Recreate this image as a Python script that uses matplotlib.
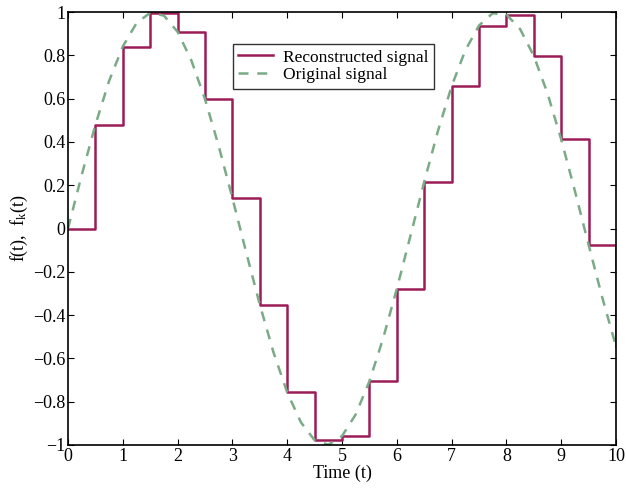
import matplotlib
matplotlib.use("Agg")
import matplotlib.pyplot as plt

# sample instants and held values (zero order hold)
t_samples = [0, 0.5, 1, 1.5, 2, 2.5, 3, 3.5, 4, 4.5, 5, 5.5, 6, 6.5, 7, 7.5, 8, 8.5, 9, 9.5, 10]
f_samples = [0, 0.479, 0.841, 0.997, 0.909, 0.598, 0.141, -0.351, -0.757, -0.978,
             -0.959, -0.706, -0.279, 0.215, 0.657, 0.938, 0.989, 0.798, 0.412, -0.075, -0.544]

# original signal
t_orig = [0, 0.25, 0.5, 0.75, 1, 1.25, 1.5, 1.75, 2, 2.25, 2.5, 2.75, 3, 3.25, 3.5, 3.75,
          4, 4.25, 4.5, 4.75, 5, 5.25, 5.5, 5.75, 6, 6.25, 6.5, 6.75, 7, 7.25, 7.5, 7.75,
          8, 8.25, 8.5, 8.75, 9, 9.25, 9.5, 9.75, 10]
f_orig = [0, 0.247, 0.479, 0.682, 0.841, 0.949, 0.997, 0.984, 0.909, 0.778, 0.598, 0.382,
          0.141, -0.108, -0.351, -0.572, -0.757, -0.895, -0.978, -0.999, -0.959, -0.859,
          -0.706, -0.508, -0.279, -0.033, 0.215, 0.450, 0.657, 0.823, 0.938, 0.995, 0.989,
          0.922, 0.798, 0.625, 0.412, 0.174, -0.075, -0.319, -0.544]

plt.rcParams['font.family'] = ['Liberation Serif', 'DejaVu Serif']
plt.rcParams['mathtext.fontset'] = 'custom'
plt.rcParams['mathtext.rm'] = 'Liberation Serif'
plt.rcParams['mathtext.it'] = 'Liberation Serif'

fig = plt.figure(figsize=(6.26, 4.93), dpi=100)
ax = fig.add_axes([0.1086, 0.0974, 0.8754, 0.878])

ax.step(t_samples, f_samples, where='post', color='#9c1c58', lw=1.8, label='Reconstructed signal')
ax.plot(t_orig, f_orig, color='#7aab86', lw=1.8, ls=(0, (4, 3.5)), label='Original signal')

ax.set_xlim(0, 10)
ax.set_ylim(-1, 1)
ax.set_xticks(range(0, 11))
ax.set_yticks([-1, -0.8, -0.6, -0.4, -0.2, 0, 0.2, 0.4, 0.6, 0.8, 1])
ax.set_yticklabels(['\u22121', '\u22120.8', '\u22120.6', '\u22120.4', '\u22120.2', '0',
                    '0.2', '0.4', '0.6', '0.8', '1'])
ax.tick_params(direction='in', top=True, right=True, labelsize=13, length=4, width=0.8, pad=2)
for s in ax.spines.values():
    s.set_linewidth(1.2)

ax.set_xlabel('Time (t)', fontsize=13, labelpad=0)
ax.set_ylabel(r'f(t),  f$_\mathrm{k}$(t)', fontsize=13, labelpad=2)

leg = ax.legend(loc='upper left', bbox_to_anchor=(0.301, 0.926), fontsize=12.5, frameon=True,
                fancybox=False, edgecolor='black', borderpad=0.3, labelspacing=0.1,
                handlelength=2.0, handletextpad=0.6, borderaxespad=0)
leg.get_frame().set_linewidth(1.0)

fig.savefig('out.png', dpi=100)
